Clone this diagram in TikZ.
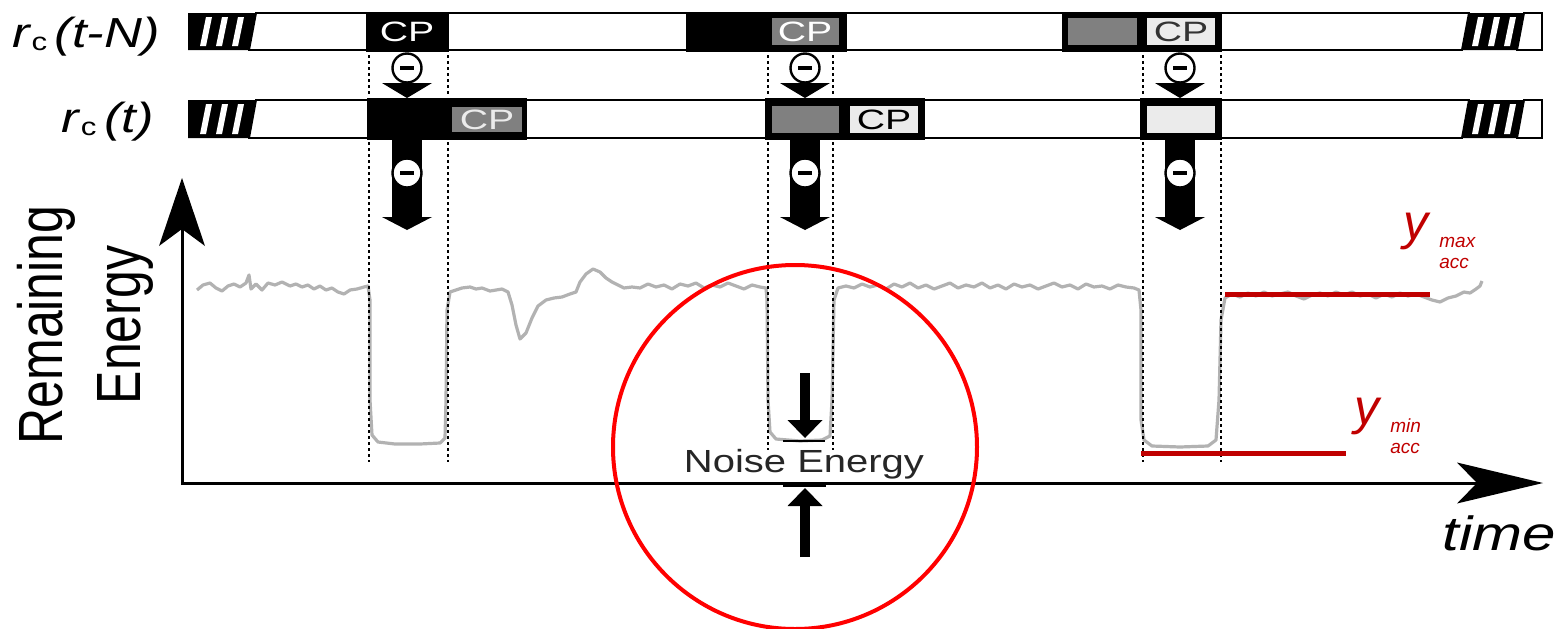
\documentclass[tikz,border=0pt]{standalone}
\usepackage{fontspec}
\setmainfont{Liberation Sans}
\usepackage{graphicx}
\usepackage{tikz}
\usetikzlibrary{arrows.meta}

\definecolor{accred}{RGB}{192,0,0}
\definecolor{cpgray}{RGB}{128,128,128}
\definecolor{cplight}{RGB}{235,235,235}
\definecolor{curvegray}{RGB}{178,178,178}

\newcommand{\hs}[2][1.25]{\scalebox{#1}[1]{#2}}
\newcommand{\fs}[1]{\fontsize{#1}{#1}\selectfont}

\begin{document}
\begin{tikzpicture}[x=0.5pt,y=-0.5pt,
  bar/.style={line width=1.2pt},
  vdots/.style={line width=1pt,dash pattern=on 1.5pt off 1.5pt},
  minuscirc/.style={circle,draw,fill=white,line width=1.2pt,inner sep=0pt,minimum size=14.5pt},
  cp/.style={inner sep=0pt,font=\fs{14}},
  lbl/.style={inner sep=0pt},
  accline/.style={accred,line width=2.5pt},
  acclbl/.style={inner sep=0pt,text=accred}]

\useasboundingbox (0,0) rectangle (1560,628);

\foreach \t/\b in {13/50,100/138} {
  \draw[bar] (255,\t) -- (1470,\t);
  \draw[bar] (248,\b) -- (1463,\b);
  \fill (188,\t) -- (257,\t) -- (250,\b) -- (188,\b) -- cycle;
  \foreach \a in {206,222,238}
    \fill[white] (\a,\t+4) -- (\a+6,\t+4) -- (\a,\b-4) -- (\a-6,\b-4) -- cycle;
  \fill (1468,\t) -- (1525,\t) -- (1518,\b) -- (1461,\b) -- cycle;
  \foreach \a in {1478,1494,1510}
    \fill[white] (\a,\t+4) -- (\a+6,\t+4) -- (\a,\b-4) -- (\a-6,\b-4) -- cycle;
  \draw[bar] (1523,\t) -- (1542,\t) -- (1542,\b) -- (1516,\b);
}

\node[lbl,anchor=base west] (rN) at (12,47) {\hs{\fs{21}\textit{r}\raisebox{-1.5pt}{\fs{12.5}c}\hspace{3pt}\textit{(t-N)}}};
\node[lbl,anchor=base east] (r0) at (154,132) {\hs{\fs{21}\textit{r}\raisebox{-1.5pt}{\fs{12.5}c}\hspace{3pt}\textit{(t)}}};

\fill (366,12) rectangle (449,52);
\node[cp,text=white] (cpa) at (407,32) {\hs[1.4]{CP}};
\fill (686,12) rectangle (847,52);
\fill[cpgray] (772,18) rectangle (839,45);
\node[cp,text=white] (cpb) at (805,32) {\hs[1.4]{CP}};
\fill (1062,12) rectangle (1222,52);
\fill[cpgray] (1068,18) rectangle (1137,45);
\fill[cplight] (1147,18) rectangle (1215,45);
\node[cp,text=black!80] (cpc) at (1181,32) {\hs[1.4]{CP}};

\fill (367,98) rectangle (527,140);
\fill[cpgray] (452,107) rectangle (522,132);
\node[cp,text=cplight] (cpd) at (487,120) {\hs[1.4]{CP}};
\fill (765,98) rectangle (925,140);
\fill[cpgray] (772,106) rectangle (839,133);
\fill[cplight] (850,106) rectangle (918,133);
\node[cp] (cpe) at (884,120) {\hs[1.4]{CP}};
\fill (1140,98) rectangle (1222,140);
\fill[cplight] (1147,106) rectangle (1215,133);

\foreach \c [count=\i] in {407,805,1180} {
  \fill (\c-25,83) -- (\c+25,83) -- (\c,98) -- cycle;
  \node[minuscirc] (sa\i) at (\c,68) {\rule{7pt}{2pt}};
  \fill (\c-15,138) rectangle (\c+15,217);
  \fill (\c-25,217) -- (\c+25,217) -- (\c,230) -- cycle;
  \node[minuscirc] (sb\i) at (\c,173) {\rule{7pt}{2pt}};
}

\coordinate (O) at (182,483);
\coordinate (ytip) at (182,178);
\coordinate (xtip) at (1543,483);
\draw[line width=1.5pt,-{Stealth[length=34pt,width=23pt,inset=8.5pt,line width=0pt]}] (182,485) -- (ytip);
\draw[line width=1.5pt,-{Stealth[length=43pt,width=20.5pt,inset=10pt,line width=0pt]}] (O) -- (xtip);

\node[lbl,rotate=90,anchor=base] (rem) at (62,325) {\scalebox{1}[1.25]{\fs{25}Remaining}};
\node[lbl,rotate=90,anchor=base] (ener) at (140,325) {\scalebox{1}[1.25]{\fs{25}Energy}};
\node[lbl,anchor=base west] (tm) at (1442,550) {\hs{\fs{24}\itshape time}};

\draw[curvegray,line width=1.6pt,line join=round] plot coordinates {
 (197,290) (203,285) (210,283) (216,288) (222,291) (228,286) (234,284) (240,287) (246,283) (249,275)
 (251,289) (256,284) (262,290) (268,283) (275,285) (282,282) (290,286) (296,284) (302,287) (308,285)
 (314,289) (320,286) (326,290) (332,288) (338,292) (344,294) (350,290) (357,289) (364,287) (368,286)
 (370,300) (370,400) (372,435) (378,442) (395,444) (420,444) (440,443) (445,438) (446,400) (447,310)
 (450,292) (456,290) (462,288) (470,287) (476,289) (482,288) (490,291) (496,290) (502,289) (508,292)
 (512,305) (516,325) (520,339) (526,333) (532,318) (538,306) (546,300) (554,298) (562,297) (570,294)
 (576,292) (580,282) (586,274) (593,269) (600,272) (606,278) (612,282) (618,285) (624,288) (632,287)
 (640,288) (648,284) (656,287) (664,285) (672,289) (680,284) (688,286) (696,283) (704,288) (712,285)
 (720,287) (728,283) (736,286) (744,289) (752,285) (760,287) (766,288)
 (767,300) (768,400) (770,432) (776,439) (800,441) (822,440) (830,436) (832,400) (834,300) (838,288)
 (846,286) (854,288) (862,284) (870,287) (878,285) (886,289) (894,284) (902,287) (910,283) (918,288)
 (926,285) (934,289) (942,286) (950,283) (958,288) (966,285) (974,287) (982,283) (990,288) (998,285)
 (1006,289) (1014,284) (1022,287) (1030,285) (1038,289) (1046,286) (1054,283) (1062,287) (1070,285)
 (1078,289) (1086,284) (1094,287) (1102,286) (1110,289) (1118,285) (1126,287) (1134,288) (1139,290)
 (1141,310) (1141,420) (1144,440) (1152,446) (1180,447) (1208,446) (1216,440) (1219,400) (1221,320)
 (1225,298) (1232,294) (1240,297) (1248,293) (1256,296) (1264,292) (1272,296) (1280,294) (1288,292)
 (1296,296) (1304,299) (1312,295) (1320,293) (1328,296) (1336,292) (1344,295) (1352,292) (1360,296)
 (1368,294) (1376,298) (1384,294) (1392,297) (1400,293) (1408,296) (1416,294) (1424,297) (1432,300)
 (1440,302) (1448,298) (1456,296) (1464,292) (1470,293) (1476,289) (1480,286) (1482,281)};

\foreach \x/\e in {369/462,448/462,768/450,833/450,1143/462,1221/462} {
  \draw[vdots] (\x,55) -- (\x,97);
  \draw[vdots] (\x,142) -- (\x,\e);
}

\coordinate (n1) at (805,373);
\coordinate (n2) at (805,438);
\coordinate (n3) at (805,557);
\coordinate (n4) at (805,488);
\draw[line width=5pt,-{Triangle[length=9pt,width=17.5pt,line width=0pt]}] (n1) -- (n2);
\draw[line width=5pt,-{Triangle[length=9pt,width=17.5pt,line width=0pt]}] (n3) -- (n4);
\draw[line width=1pt] (783,441) -- (825,441);
\draw[line width=2.5pt] (783,484) -- (826,484);
\node[lbl,anchor=base,text=black!85] (ne) at (804,472) {\hs{\fs{16}Noise Energy}};

\draw[accline] (1225,294) -- (1430,294);
\draw[accline] (1141,453) -- (1346,453);
\node[acclbl,anchor=base west] (ya) at (1403,239) {\fs{25}\itshape y};
\node[acclbl,anchor=base west] (yb) at (1439,247) {\fs{9.5}\itshape max};
\node[acclbl,anchor=base west] (yc) at (1439,268) {\fs{9.5}\itshape acc};
\node[acclbl,anchor=base west] (yd) at (1354,424) {\fs{25}\itshape y};
\node[acclbl,anchor=base west] (ye) at (1390,432) {\fs{9.5}\itshape min};
\node[acclbl,anchor=base west] (yf) at (1390,453) {\fs{9.5}\itshape acc};

\draw[red,line width=2pt] (795,447) circle[radius=182];

\end{tikzpicture}
\end{document}
